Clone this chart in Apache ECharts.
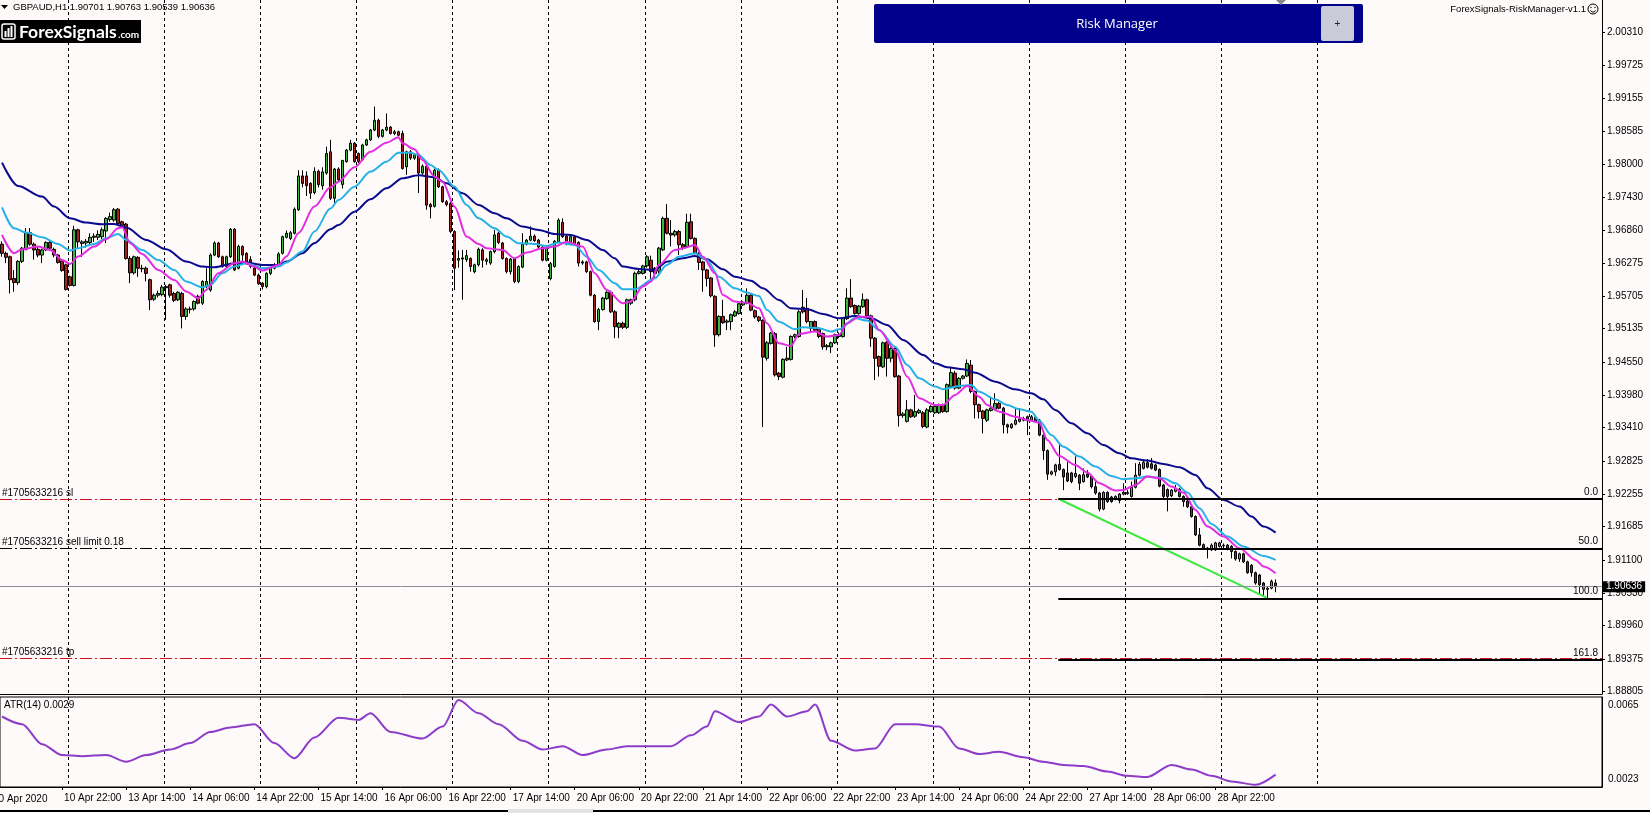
<!DOCTYPE html>
<html><head><meta charset="utf-8">
<script src="https://cdn.jsdelivr.net/npm/echarts@6/dist/echarts.min.js"></script>
<style>html,body{margin:0;padding:0;background:#fffafa;}#c{width:1650px;height:813px;}</style>
</head><body><div id="c"></div>
<script>
// ---------- DATA ----------
const headerText = 'GBPAUD,H1 1.90701 1.90763 1.90539 1.90636';
const atrTitle = 'ATR(14) 0.0029';
const barCount = 400; // visible bar slots incl. chart shift
// candles: [open, close, low, high]
const ohlc = [
[1.9661,1.9645,1.9639,1.9666],[1.9645,1.9638,1.9628,1.9648],[1.9639,1.9599,1.9575,1.9641],[1.9601,1.9594,1.9578,1.9616],[1.9594,1.9631,1.9590,1.9633],
[1.9631,1.9654,1.9628,1.9656],[1.9652,1.9681,1.9650,1.9689],[1.9681,1.9661,1.9658,1.9689],[1.9661,1.9651,1.9634,1.9664],[1.9652,1.9642,1.9638,1.9656],
[1.9642,1.9651,1.9628,1.9653],[1.9651,1.9664,1.9649,1.9666],[1.9664,1.9654,1.9651,1.9667],[1.9652,1.9642,1.9638,1.9655],[1.9642,1.9629,1.9627,1.9644],
[1.9632,1.9615,1.9613,1.9634],[1.9625,1.9582,1.9580,1.9627],[1.9604,1.9589,1.9587,1.9606],[1.9589,1.9686,1.9587,1.9693],[1.9686,1.9665,1.9654,1.9688],
[1.9662,1.9665,1.9639,1.9668],[1.9663,1.9666,1.9655,1.9670],[1.9664,1.9673,1.9660,1.9680],[1.9673,1.9675,1.9665,1.9680],[1.9673,1.9678,1.9668,1.9685],
[1.9674,1.9686,1.9670,1.9690],[1.9684,1.9706,1.9663,1.9708],[1.9704,1.9709,1.9700,1.9716],[1.9703,1.9721,1.9700,1.9724],[1.9722,1.9697,1.9695,1.9724],
[1.9700,1.9694,1.9690,1.9702],[1.9696,1.9636,1.9634,1.9698],[1.9636,1.9611,1.9593,1.9640],[1.9611,1.9639,1.9608,1.9641],[1.9638,1.9619,1.9604,1.9640],
[1.9619,1.9618,1.9612,1.9625],[1.9619,1.9610,1.9596,1.9622],[1.9599,1.9564,1.9546,1.9601],[1.9565,1.9572,1.9562,1.9575],[1.9572,1.9575,1.9568,1.9580],
[1.9573,1.9586,1.9570,1.9590],[1.9587,1.9585,1.9529,1.9590],[1.9590,1.9572,1.9568,1.9592],[1.9575,1.9563,1.9560,1.9578],[1.9564,1.9577,1.9562,1.9579],
[1.9575,1.9535,1.9514,1.9578],[1.9535,1.9548,1.9529,1.9551],[1.9547,1.9548,1.9540,1.9552],[1.9548,1.9561,1.9545,1.9563],[1.9570,1.9558,1.9556,1.9573],
[1.9558,1.9596,1.9555,1.9598],[1.9587,1.9596,1.9584,1.9619],[1.9581,1.9642,1.9578,1.9645],[1.9642,1.9663,1.9640,1.9666],[1.9663,1.9639,1.9637,1.9665],
[1.9639,1.9622,1.9620,1.9641],[1.9622,1.9639,1.9620,1.9641],[1.9639,1.9687,1.9637,1.9689],[1.9687,1.9616,1.9614,1.9689],[1.9619,1.9657,1.9617,1.9660],
[1.9657,1.9642,1.9630,1.9659],[1.9645,1.9628,1.9625,1.9647],[1.9634,1.9622,1.9619,1.9640],[1.9619,1.9607,1.9605,1.9624],[1.9607,1.9592,1.9590,1.9610],
[1.9593,1.9587,1.9582,1.9595],[1.9587,1.9610,1.9584,1.9612],[1.9610,1.9619,1.9607,1.9621],[1.9619,1.9625,1.9617,1.9628],[1.9625,1.9644,1.9622,1.9647],
[1.9645,1.9674,1.9643,1.9676],[1.9673,1.9680,1.9671,1.9685],[1.9671,1.9681,1.9668,1.9684],[1.9680,1.9722,1.9678,1.9725],[1.9721,1.9780,1.9719,1.9790],
[1.9780,1.9767,1.9760,1.9790],[1.9780,1.9763,1.9745,1.9788],[1.9767,1.9750,1.9740,1.9769],[1.9751,1.9788,1.9748,1.9795],[1.9788,1.9765,1.9760,1.9791],
[1.9763,1.9787,1.9756,1.9795],[1.9785,1.9819,1.9782,1.9831],[1.9822,1.9741,1.9738,1.9843],[1.9741,1.9792,1.9729,1.9794],[1.9792,1.9773,1.9770,1.9795],
[1.9765,1.9807,1.9758,1.9808],[1.9805,1.9825,1.9803,1.9827],[1.9825,1.9837,1.9823,1.9843],[1.9837,1.9805,1.9803,1.9839],[1.9819,1.9805,1.9802,1.9821],
[1.9808,1.9834,1.9806,1.9836],[1.9834,1.9843,1.9832,1.9845],[1.9843,1.9860,1.9841,1.9862],[1.9860,1.9877,1.9858,1.9901],[1.9877,1.9849,1.9846,1.9880],
[1.9849,1.9860,1.9847,1.9862],[1.9860,1.9865,1.9858,1.9889],[1.9865,1.9854,1.9852,1.9867],[1.9854,1.9857,1.9851,1.9860],[1.9857,1.9851,1.9849,1.9859],
[1.9854,1.9793,1.9791,1.9859],[1.9796,1.9822,1.9782,1.9824],[1.9822,1.9811,1.9808,1.9825],[1.9811,1.9817,1.9808,1.9819],[1.9817,1.9785,1.9750,1.9819],
[1.9785,1.9797,1.9782,1.9800],[1.9797,1.9729,1.9721,1.9800],[1.9730,1.9726,1.9706,1.9733],[1.9727,1.9790,1.9725,1.9793],[1.9790,1.9761,1.9759,1.9793],
[1.9761,1.9735,1.9733,1.9763],[1.9735,1.9730,1.9727,1.9738],[1.9732,1.9683,1.9680,1.9735],[1.9683,1.9619,1.9581,1.9685],[1.9633,1.9636,1.9620,1.9650],
[1.9635,1.9637,1.9564,1.9651],[1.9634,1.9641,1.9630,1.9651],[1.9636,1.9622,1.9613,1.9638],[1.9613,1.9625,1.9610,1.9627],[1.9625,1.9652,1.9622,1.9655],
[1.9651,1.9633,1.9620,1.9654],[1.9631,1.9634,1.9625,1.9637],[1.9628,1.9648,1.9625,1.9650],[1.9648,1.9677,1.9645,1.9686],[1.9680,1.9664,1.9661,1.9683],
[1.9663,1.9636,1.9634,1.9665],[1.9636,1.9613,1.9610,1.9638],[1.9613,1.9635,1.9608,1.9637],[1.9635,1.9596,1.9593,1.9637],[1.9596,1.9622,1.9593,1.9624],
[1.9621,1.9661,1.9619,1.9680],[1.9661,1.9668,1.9659,1.9670],[1.9668,1.9675,1.9666,1.9692],[1.9675,1.9667,1.9665,1.9678],[1.9668,1.9656,1.9653,1.9670],
[1.9656,1.9633,1.9631,1.9658],[1.9633,1.9654,1.9631,1.9656],[1.9601,1.9627,1.9598,1.9630],[1.9622,1.9666,1.9620,1.9668],[1.9665,1.9703,1.9663,1.9706],
[1.9699,1.9674,1.9672,1.9706],[1.9675,1.9661,1.9659,1.9677],[1.9662,1.9674,1.9660,1.9677],[1.9674,1.9662,1.9660,1.9677],[1.9664,1.9628,1.9622,1.9666],
[1.9628,1.9630,1.9625,1.9633],[1.9630,1.9613,1.9611,1.9632],[1.9613,1.9572,1.9570,1.9615],[1.9572,1.9526,1.9524,1.9574],[1.9526,1.9547,1.9511,1.9550],
[1.9547,1.9567,1.9545,1.9569],[1.9566,1.9577,1.9564,1.9579],[1.9577,1.9543,1.9541,1.9580],[1.9543,1.9517,1.9497,1.9546],[1.9516,1.9523,1.9497,1.9525],
[1.9523,1.9516,1.9513,1.9526],[1.9516,1.9564,1.9513,1.9566],[1.9558,1.9564,1.9555,1.9566],[1.9564,1.9610,1.9561,1.9613],[1.9610,1.9613,1.9608,1.9616],
[1.9610,1.9623,1.9608,1.9625],[1.9623,1.9639,1.9620,1.9642],[1.9633,1.9613,1.9600,1.9641],[1.9619,1.9610,1.9600,1.9621],[1.9614,1.9654,1.9610,1.9656],
[1.9651,1.9706,1.9649,1.9709],[1.9706,1.9680,1.9678,1.9731],[1.9680,1.9677,1.9657,1.9703],[1.9677,1.9683,1.9674,1.9686],[1.9683,1.9660,1.9642,1.9686],
[1.9660,1.9654,1.9651,1.9663],[1.9657,1.9699,1.9655,1.9714],[1.9700,1.9671,1.9669,1.9714],[1.9671,1.9645,1.9643,1.9673],[1.9645,1.9629,1.9616,1.9647],
[1.9630,1.9616,1.9578,1.9632],[1.9616,1.9601,1.9587,1.9618],[1.9602,1.9571,1.9568,1.9604],[1.9570,1.9503,1.9482,1.9572],[1.9503,1.9535,1.9500,1.9537],
[1.9535,1.9524,1.9522,1.9564],[1.9525,1.9527,1.9511,1.9530],[1.9526,1.9538,1.9511,1.9540],[1.9536,1.9543,1.9534,1.9546],[1.9540,1.9557,1.9538,1.9558],
[1.9555,1.9559,1.9553,1.9562],[1.9558,1.9572,1.9556,1.9584],[1.9572,1.9546,1.9544,1.9575],[1.9545,1.9534,1.9531,1.9547],[1.9534,1.9528,1.9525,1.9536],
[1.9528,1.9464,1.9342,1.9530],[1.9462,1.9489,1.9458,1.9492],[1.9488,1.9506,1.9486,1.9508],[1.9505,1.9433,1.9430,1.9508],[1.9436,1.9430,1.9424,1.9438],
[1.9429,1.9460,1.9427,1.9462],[1.9459,1.9462,1.9457,1.9482],[1.9460,1.9500,1.9458,1.9502],[1.9500,1.9503,1.9497,1.9505],[1.9500,1.9543,1.9498,1.9546],
[1.9551,1.9543,1.9540,1.9581],[1.9549,1.9526,1.9523,1.9567],[1.9514,1.9526,1.9509,1.9527],[1.9526,1.9511,1.9509,1.9528],[1.9514,1.9500,1.9497,1.9516],
[1.9505,1.9482,1.9477,1.9507],[1.9482,1.9484,1.9476,1.9487],[1.9482,1.9489,1.9471,1.9491],[1.9489,1.9503,1.9487,1.9505],[1.9500,1.9503,1.9497,1.9507],
[1.9500,1.9532,1.9498,1.9534],[1.9531,1.9567,1.9529,1.9584],[1.9567,1.9552,1.9550,1.9600],[1.9554,1.9540,1.9538,1.9556],[1.9540,1.9553,1.9538,1.9555],
[1.9552,1.9564,1.9550,1.9575],[1.9564,1.9536,1.9534,1.9566],[1.9536,1.9497,1.9482,1.9538],[1.9497,1.9462,1.9424,1.9499],[1.9465,1.9448,1.9430,1.9467],
[1.9447,1.9489,1.9445,1.9491],[1.9490,1.9462,1.9430,1.9492],[1.9462,1.9479,1.9455,1.9481],[1.9479,1.9430,1.9428,1.9481],[1.9431,1.9362,1.9343,1.9433],
[1.9362,1.9365,1.9358,1.9368],[1.9352,1.9372,1.9350,1.9389],[1.9372,1.9360,1.9358,1.9374],[1.9361,1.9369,1.9358,1.9398],[1.9367,1.9371,1.9365,1.9374],
[1.9367,1.9343,1.9340,1.9370],[1.9342,1.9372,1.9340,1.9375],[1.9369,1.9378,1.9367,1.9380],[1.9367,1.9378,1.9365,1.9380],[1.9367,1.9381,1.9365,1.9383],
[1.9381,1.9369,1.9367,1.9383],[1.9369,1.9416,1.9367,1.9418],[1.9413,1.9437,1.9411,1.9445],[1.9436,1.9410,1.9407,1.9440],[1.9410,1.9427,1.9408,1.9429],
[1.9427,1.9431,1.9425,1.9433],[1.9431,1.9453,1.9429,1.9460],[1.9450,1.9404,1.9401,1.9459],[1.9404,1.9381,1.9357,1.9406],[1.9381,1.9369,1.9357,1.9383],
[1.9370,1.9357,1.9331,1.9372],[1.9354,1.9372,1.9351,1.9374],[1.9371,1.9375,1.9369,1.9395],[1.9373,1.9383,1.9371,1.9401],[1.9383,1.9375,1.9373,1.9386],
[1.9375,1.9346,1.9331,1.9377],[1.9346,1.9342,1.9331,1.9348],[1.9341,1.9347,1.9339,1.9349],[1.9347,1.9354,1.9345,1.9375],[1.9352,1.9356,1.9350,1.9375],
[1.9354,1.9357,1.9352,1.9360],[1.9360,1.9353,1.9328,1.9362],[1.9354,1.9360,1.9352,1.9363],[1.9359,1.9352,1.9350,1.9361],[1.9354,1.9328,1.9326,1.9356],
[1.9328,1.9301,1.9285,1.9330],[1.9301,1.9260,1.9250,1.9303],[1.9260,1.9264,1.9258,1.9266],[1.9264,1.9276,1.9257,1.9278],[1.9277,1.9268,1.9266,1.9311],
[1.9268,1.9255,1.9232,1.9270],[1.9262,1.9248,1.9246,1.9281],[1.9262,1.9247,1.9244,1.9264],[1.9256,1.9261,1.9253,1.9291],[1.9258,1.9244,1.9232,1.9260],
[1.9247,1.9259,1.9245,1.9270],[1.9260,1.9255,1.9253,1.9267],[1.9256,1.9238,1.9235,1.9258],[1.9238,1.9227,1.9224,1.9247],[1.9227,1.9199,1.9195,1.9229],
[1.9199,1.9228,1.9197,1.9230],[1.9228,1.9212,1.9210,1.9230],[1.9220,1.9212,1.9210,1.9222],[1.9216,1.9221,1.9214,1.9223],[1.9214,1.9225,1.9209,1.9227],
[1.9225,1.9228,1.9223,1.9244],[1.9226,1.9228,1.9224,1.9232],[1.9221,1.9237,1.9219,1.9247],[1.9237,1.9258,1.9235,1.9279],[1.9258,1.9277,1.9256,1.9281],
[1.9270,1.9280,1.9268,1.9285],[1.9280,1.9272,1.9270,1.9286],[1.9278,1.9270,1.9268,1.9288],[1.9276,1.9267,1.9265,1.9278],[1.9268,1.9239,1.9237,1.9270],
[1.9241,1.9221,1.9215,1.9243],[1.9233,1.9221,1.9195,1.9235],[1.9222,1.9232,1.9220,1.9234],[1.9230,1.9235,1.9228,1.9241],[1.9234,1.9221,1.9219,1.9236],
[1.9221,1.9212,1.9203,1.9223],[1.9213,1.9203,1.9201,1.9215],[1.9203,1.9186,1.9184,1.9205],[1.9186,1.9154,1.9152,1.9188],[1.9154,1.9136,1.9134,1.9166],
[1.9137,1.9131,1.9128,1.9139],[1.9131,1.9129,1.9113,1.9133],[1.9128,1.9136,1.9126,1.9139],[1.9128,1.9140,1.9126,1.9142],[1.9134,1.9140,1.9132,1.9142],
[1.9136,1.9135,1.9131,1.9139],[1.9136,1.9129,1.9127,1.9138],[1.9134,1.9125,1.9113,1.9136],[1.9125,1.9112,1.9109,1.9127],[1.9112,1.9121,1.9107,1.9123],
[1.9121,1.9107,1.9105,1.9123],[1.9107,1.9088,1.9086,1.9109],[1.9101,1.9088,1.9081,1.9103],[1.9088,1.9070,1.9067,1.9090],[1.9084,1.9067,1.9049,1.9086],
[1.9070,1.9059,1.9047,1.9072],[1.9059,1.9061,1.9043,1.9063],[1.9061,1.9073,1.9059,1.9076],[1.90701,1.90636,1.90539,1.90763]
];
// moving averages [barIndex, price]
const maFast = [[0,1.96771],[3,1.96451],[5,1.96521],[9,1.96568],[12,1.96510],[15,1.96335],[17,1.96266],[19,1.96393],[23,1.96568],[26,1.96696],[29,1.96887],[30,1.96905],[32,1.96626],[35,1.96440],[39,1.96161],[43,1.95986],[46,1.95783],[49,1.95667],[51,1.95812],[54,1.96102],[58,1.96277],[60,1.96306],[63,1.96219],[65,1.96149],[69,1.96248],[71,1.96393],[74,1.96800],[78,1.97265],[82,1.97602],[84,1.97700],[88,1.97950],[92,1.98223],[96,1.98380],[99,1.98473],[100,1.98368],[103,1.98264],[105,1.98078],[108,1.97787],[110,1.97700],[113,1.97264],[116,1.96742],[119,1.96614],[121,1.96538],[125,1.96509],[128,1.96364],[131,1.96463],[135,1.96538],[138,1.96567],[141,1.96654],[145,1.96567],[148,1.96103],[151,1.95812],[155,1.95580],[157,1.95609],[160,1.95870],[162,1.95956],[164,1.96247],[168,1.96508],[170,1.96537],[173,1.96595],[175,1.96392],[178,1.96102],[180,1.95724],[183,1.95608],[186,1.95590],[189,1.95491],[191,1.95230],[194,1.94881],[197,1.94835],[199,1.95044],[203,1.95085],[206,1.94998],[209,1.95027],[211,1.95230],[214,1.95346],[217,1.95346],[219,1.95114],[223,1.94765],[226,1.94300],[229,1.93923],[233,1.93807],[235,1.93807],[238,1.93981],[241,1.94137],[244,1.93951],[246,1.93805],[249,1.93689],[253,1.93602],[256,1.93544],[259,1.93497],[261,1.93195],[264,1.92917],[268,1.92760],[271,1.92626],[274,1.92440],[278,1.92312],[280,1.92324],[283,1.92411],[286,1.92556],[289,1.92527],[292,1.92382],[295,1.92277],[298,1.91975],[301,1.91685],[305,1.91510],[309,1.91307],[313,1.91104],[315,1.90988],[318,1.90871]];
const maMid = [[0,1.97253],[3,1.96887],[6,1.96812],[10,1.96730],[14,1.96614],[17,1.96498],[19,1.96539],[23,1.96614],[26,1.96713],[29,1.96788],[31,1.96684],[35,1.96510],[39,1.96335],[43,1.96161],[46,1.95957],[50,1.95859],[52,1.95899],[55,1.96102],[58,1.96219],[61,1.96277],[65,1.96190],[69,1.96219],[71,1.96289],[75,1.96480],[78,1.96829],[82,1.97230],[84,1.97381],[88,1.97613],[92,1.97875],[96,1.98049],[99,1.98206],[102,1.98206],[104,1.98165],[107,1.97991],[109,1.97903],[113,1.97613],[116,1.97294],[119,1.97061],[123,1.96887],[126,1.96742],[129,1.96625],[133,1.96614],[136,1.96579],[139,1.96637],[143,1.96597],[146,1.96392],[149,1.96160],[153,1.95928],[155,1.95824],[158,1.95824],[163,1.96014],[166,1.96247],[169,1.96392],[173,1.96450],[176,1.96334],[179,1.96043],[183,1.95840],[186,1.95765],[189,1.95706],[191,1.95462],[194,1.95259],[198,1.95125],[200,1.95160],[204,1.95143],[207,1.95085],[209,1.95125],[213,1.95317],[216,1.95277],[219,1.95114],[223,1.94823],[226,1.94504],[229,1.94271],[233,1.94126],[235,1.94080],[239,1.94138],[242,1.94154],[244,1.94038],[248,1.93904],[251,1.93805],[254,1.93730],[257,1.93689],[259,1.93532],[262,1.93282],[265,1.93079],[269,1.92905],[273,1.92731],[277,1.92568],[280,1.92510],[283,1.92527],[286,1.92556],[290,1.92527],[293,1.92440],[296,1.92277],[299,1.92004],[302,1.91731],[306,1.91510],[310,1.91336],[315,1.91173],[318,1.91104]];
const maSlow = [[0,1.98032],[4,1.97625],[10,1.97439],[13,1.97265],[17,1.97061],[21,1.96986],[25,1.96957],[28,1.96963],[31,1.96899],[36,1.96684],[41,1.96521],[46,1.96306],[50,1.96219],[53,1.96207],[58,1.96277],[61,1.96289],[65,1.96248],[69,1.96248],[71,1.96306],[75,1.96451],[78,1.96626],[82,1.96870],[84,1.96945],[88,1.97177],[92,1.97392],[96,1.97584],[100,1.97758],[104,1.97811],[108,1.97776],[111,1.97671],[115,1.97497],[119,1.97294],[123,1.97148],[126,1.97061],[130,1.96916],[134,1.96858],[138,1.96788],[142,1.96771],[146,1.96684],[150,1.96509],[153,1.96364],[155,1.96219],[159,1.96178],[163,1.96160],[166,1.96305],[170,1.96363],[173,1.96404],[176,1.96346],[180,1.96171],[183,1.96043],[187,1.95974],[190,1.95840],[194,1.95637],[197,1.95491],[201,1.95474],[205,1.95393],[209,1.95317],[213,1.95358],[217,1.95317],[221,1.95201],[225,1.94939],[230,1.94678],[233,1.94533],[236,1.94463],[240,1.94428],[243,1.94369],[248,1.94212],[253,1.94078],[257,1.94009],[260,1.93904],[263,1.93718],[267,1.93486],[271,1.93312],[275,1.93108],[279,1.92963],[282,1.92876],[286,1.92835],[290,1.92777],[294,1.92719],[298,1.92585],[301,1.92353],[305,1.92150],[309,1.92033],[312,1.91859],[315,1.91685],[318,1.91580]];
// ATR(14) [barIndex, value]
const atr14 = [[0,0.00559],[5,0.00523],[10,0.00430],[15,0.00379],[20,0.00374],[26,0.00379],[31,0.00348],[36,0.00379],[42,0.00405],[47,0.00435],[52,0.00487],[57,0.00508],[63,0.00523],[68,0.00435],[73,0.00364],[78,0.00461],[84,0.00553],[89,0.00543],[92,0.00574],[97,0.00487],[105,0.00456],[110,0.00512],[114,0.00636],[119,0.00574],[124,0.00523],[130,0.00446],[135,0.00405],[140,0.00420],[145,0.00379],[151,0.00405],[156,0.00420],[161,0.00420],[167,0.00420],[172,0.00471],[176,0.00512],[178,0.00584],[184,0.00533],[189,0.00559],[192,0.00615],[196,0.00559],[201,0.00584],[203,0.00615],[207,0.00446],[213,0.00400],[218,0.00410],[223,0.00523],[228,0.00523],[234,0.00512],[239,0.00410],[244,0.00384],[249,0.00394],[255,0.00369],[260,0.00348],[265,0.00333],[270,0.00328],[276,0.00302],[281,0.00282],[286,0.00277],[292,0.00333],[297,0.00312],[302,0.00282],[307,0.00256],[313,0.00240],[318,0.00288]];
// axis ticks
const priceTicks = [2.00310,1.99725,1.99155,1.98585,1.98000,1.97430,1.96860,1.96275,1.95705,1.95135,1.94550,1.93980,1.93410,1.92825,1.92255,1.91685,1.91100,1.90530,1.89960,1.89375,1.88805];
const priceMin = 1.88765, priceMax = 2.00868;
const atrTicks = [0.0023, 0.0065];
const firstDateLabel = '10 Apr 2020';
const timeLabels = ['10 Apr 22:00','13 Apr 14:00','14 Apr 06:00','14 Apr 22:00','15 Apr 14:00','16 Apr 06:00','16 Apr 22:00','17 Apr 14:00','20 Apr 06:00','20 Apr 22:00','21 Apr 14:00','22 Apr 06:00','22 Apr 22:00','23 Apr 14:00','24 Apr 06:00','24 Apr 22:00','27 Apr 14:00','28 Apr 06:00','28 Apr 22:00'];
const timeLabelBars = [15,31,47,63,79,95,111,127,143,159,175,191,207,223,239,255,271,287,303];
const gridBars = [17,41,65,89,113,137,161,185,209,233,257,281,305,329];
// trade / drawing objects
const orderNames = ['#1705633216 sl','#1705633216 sell limit 0.18','#1705633216 tp'];
const orderPrices = [1.92170, 1.91300, 1.89385];
const bidPrice = 1.90636;
const fibLabels = ['0.0','50.0','100.0','161.8'];
const fibPrices = [1.92170, 1.91300, 1.90430, 1.89355];
const fibStartBar = 263.75;
const trendLine = [[263.75, 1.92170], [315.75, 1.90445]];

// ---------- CHART ----------
const cats = Array.from({length: barCount}, (_, i) => String(i));
const labelMap = {}; timeLabelBars.forEach((b, k) => labelMap[b] = timeLabels[k]);
const gridSet = new Set(gridBars);
const FONT = 'Liberation Sans';
const dashGrid = {show: true, interval: (i) => gridSet.has(i), lineStyle: {color: '#000', width: 1, type: [3, 3]}};

const chart = echarts.init(document.getElementById('c'), null, {renderer: 'canvas'});

const orderColors = ['#d0101a', '#000000', '#d0101a'];
const orderMark = {
  symbol: ['none', 'none'], silent: true, animation: false, precision: 6,
  data: [{
    yAxis: bidPrice,
    lineStyle: {color: '#8c8c9c', width: 1, type: 'solid'},
    label: {show: true, position: 'end', formatter: bidPrice.toFixed(5), color: '#fff', backgroundColor: '#000', padding: [1, 3, 0, 3], fontSize: 10, fontFamily: FONT, distance: 1}
  }].concat(orderNames.map((n, k) => ({
    yAxis: orderPrices[k],
    lineStyle: {color: orderColors[k], width: 1, type: [12, 3, 2, 3]},
    label: {show: true, position: 'insideStartTop', formatter: n, color: '#000', fontSize: 10, fontFamily: FONT, distance: [2, 1]}
  })))
};
const fibMark = {
  symbol: ['none', 'none'], silent: true, animation: false, precision: 6,
  data: fibLabels.map((l, k) => [
    {coord: [fibStartBar, fibPrices[k]], lineStyle: {color: '#000', width: 2, type: 'solid'},
     label: {show: true, position: 'insideEndTop', formatter: l, color: '#000', fontSize: 10, fontFamily: FONT, distance: [4, 2]}},
    {coord: [barCount - 0.5, fibPrices[k]]}
  ])
};

const lineSeries = (name, data, color, z) => ({
  name, type: 'line', xAxisIndex: 1, yAxisIndex: 0, data, showSymbol: false, symbol: 'none',
  smooth: 0.3, smoothMonotone: 'x', lineStyle: {color, width: 2}, z, animation: false, silent: true
});

chart.setOption({
  backgroundColor: '#fffafa',
  animation: false,
  textStyle: {fontFamily: FONT},
  grid: [
    {left: 0, top: 0, width: 1602, height: 694},
    {left: 0, top: 697, width: 1602, height: 90, show: true, borderColor: '#000', borderWidth: 1, backgroundColor: 'transparent'}
  ],
  xAxis: [
    {type: 'category', gridIndex: 0, data: cats, boundaryGap: true,
     axisLine: {show: true, lineStyle: {color: '#000'}}, axisTick: {show: false}, axisLabel: {show: false}, splitLine: dashGrid},
    {type: 'value', gridIndex: 0, min: -0.5, max: barCount - 0.5, show: false},
    {type: 'category', gridIndex: 1, data: cats, boundaryGap: true,
     axisLine: {show: true, lineStyle: {color: '#000'}},
     axisTick: {show: true, alignWithLabel: true, interval: (i) => labelMap[i] !== undefined, length: 3, lineStyle: {color: '#000'}},
     axisLabel: {show: true, interval: (i) => labelMap[i] !== undefined, formatter: (v, i) => labelMap[i] || '',
       align: 'left', margin: 6, fontSize: 10, color: '#000', padding: [0, 0, 0, 2]},
     splitLine: dashGrid},
    {type: 'value', gridIndex: 1, min: -0.5, max: barCount - 0.5, show: false}
  ],
  yAxis: [
    {type: 'value', gridIndex: 0, position: 'right', min: priceMin, max: priceMax,
     axisLine: {show: true, onZero: false, lineStyle: {color: '#000'}},
     axisTick: {show: true, customValues: priceTicks, length: 3, lineStyle: {color: '#000'}},
     axisLabel: {show: true, customValues: priceTicks, formatter: (v) => v.toFixed(5), fontSize: 10, color: '#000', margin: 5},
     splitLine: {show: false}},
    {type: 'value', gridIndex: 1, position: 'right', min: atrTicks[0], max: atrTicks[1],
     axisLine: {show: true, onZero: false, lineStyle: {color: '#000'}},
     axisTick: {show: false},
     axisLabel: {show: true, customValues: atrTicks, formatter: (v) => v.toFixed(4), fontSize: 10, color: '#000', margin: 6,
       verticalAlignMinLabel: 'bottom', verticalAlignMaxLabel: 'top', padding: [3, 0, 3, 0]},
     splitLine: {show: false}}
  ],
  series: [
    {name: 'orders', type: 'line', xAxisIndex: 1, yAxisIndex: 0, data: [], markLine: orderMark, z: 1},
    {name: 'GBPAUD', type: 'candlestick', xAxisIndex: 0, yAxisIndex: 0, data: ohlc, barWidth: 3,
     itemStyle: {color: '#3fb43f', color0: '#a3221c', borderColor: '#000', borderColor0: '#000', borderWidth: 1}, z: 2, silent: true},
    {name: 'fibo', type: 'line', xAxisIndex: 1, yAxisIndex: 0, data: [], markLine: fibMark, z: 1},
    lineSeries('MA slow', maSlow, '#0a0a8e', 4),
    lineSeries('MA mid', maMid, '#27b2e6', 4),
    lineSeries('MA fast', maFast, '#e22ee2', 4),
    {name: 'trend', type: 'line', xAxisIndex: 1, yAxisIndex: 0, data: trendLine, showSymbol: false, symbol: 'none',
     lineStyle: {color: '#3ee83e', width: 2}, z: 4, silent: true},
    {name: 'ATR', type: 'line', xAxisIndex: 3, yAxisIndex: 1, data: atr14, showSymbol: false, symbol: 'none',
     smooth: 0.3, smoothMonotone: 'x', lineStyle: {color: '#8c3cc8', width: 2}, z: 3, silent: true}
  ],
  graphic: [
    {type: 'polygon', z: 100, shape: {points: [[1, 5], [8, 5], [4.5, 9]]}, style: {fill: '#000'}},
    {type: 'text', z: 100, x: 13, y: 7, style: {text: headerText, font: '9.5px "Liberation Sans"', fill: '#000', textVerticalAlign: 'middle'}},
    {type: 'rect', z: 100, shape: {x: 0, y: 20, width: 141, height: 23}, style: {fill: '#000'}},
    {type: 'rect', z: 101, shape: {x: 2, y: 24, width: 13, height: 15, r: 2}, style: {fill: 'none', stroke: '#fff', lineWidth: 1.5}},
    {type: 'rect', z: 101, shape: {x: 4.5, y: 31, width: 2, height: 6}, style: {fill: '#fff'}},
    {type: 'rect', z: 101, shape: {x: 7.5, y: 28, width: 2, height: 9}, style: {fill: '#fff'}},
    {type: 'rect', z: 101, shape: {x: 10.5, y: 26, width: 2, height: 11}, style: {fill: '#fff'}},
    {type: 'text', z: 101, x: 19, y: 32, style: {text: 'ForexSignals', font: 'bold 17.5px Lato', fill: '#fff', textVerticalAlign: 'middle'}},
    {type: 'text', z: 101, x: 118, y: 35, style: {text: '.com', font: 'bold 10px Lato', fill: '#fff', textVerticalAlign: 'middle'}},
    {type: 'rect', z: 100, shape: {x: 874, y: 4, width: 489, height: 39, r: 2}, style: {fill: '#00008c'}},
    {type: 'text', z: 101, x: 1117, y: 24, style: {text: 'Risk Manager', font: '13px "Open Sans"', fill: '#fff', textAlign: 'center', textVerticalAlign: 'middle'}},
    {type: 'rect', z: 101, shape: {x: 1321, y: 6, width: 33, height: 35, r: 2}, style: {fill: '#c9ccd8'}},
    {type: 'text', z: 102, x: 1337.5, y: 24, style: {text: '+', font: '10px "Liberation Sans"', fill: '#222', textAlign: 'center', textVerticalAlign: 'middle'}},
    {type: 'polygon', z: 100, shape: {points: [[1276, 0], [1286, 0], [1281, 5]]}, style: {fill: '#8a8a8a'}},
    {type: 'text', z: 100, x: 1586, y: 9, style: {text: 'ForexSignals-RiskManager-v1.1', font: '9.5px "Liberation Sans"', fill: '#000', textAlign: 'right', textVerticalAlign: 'middle'}},
    {type: 'circle', z: 100, shape: {cx: 1593, cy: 9, r: 5}, style: {fill: 'none', stroke: '#000', lineWidth: 1}},
    {type: 'circle', z: 100, shape: {cx: 1591, cy: 7.5, r: 0.7}, style: {fill: '#000'}},
    {type: 'circle', z: 100, shape: {cx: 1595, cy: 7.5, r: 0.7}, style: {fill: '#000'}},
    {type: 'arc', z: 100, shape: {cx: 1593, cy: 9.5, r: 2.6, startAngle: 0.3, endAngle: Math.PI - 0.3}, style: {stroke: '#000', lineWidth: 1, fill: 'none'}},
    {type: 'text', z: 100, x: 4, y: 705, style: {text: atrTitle, font: '10px "Liberation Sans"', fill: '#000', textVerticalAlign: 'middle'}},
    {type: 'text', z: 100, x: -7, y: 799, style: {text: firstDateLabel, font: '10px "Liberation Sans"', fill: '#000', textVerticalAlign: 'middle'}},
    {type: 'rect', z: 100, shape: {x: 0, y: 810, width: 1650, height: 2}, style: {fill: '#000'}},
    {type: 'rect', z: 101, shape: {x: 508, y: 809, width: 85, height: 4}, style: {fill: '#e4e4e4'}}
  ]
});
</script>
</body></html>
